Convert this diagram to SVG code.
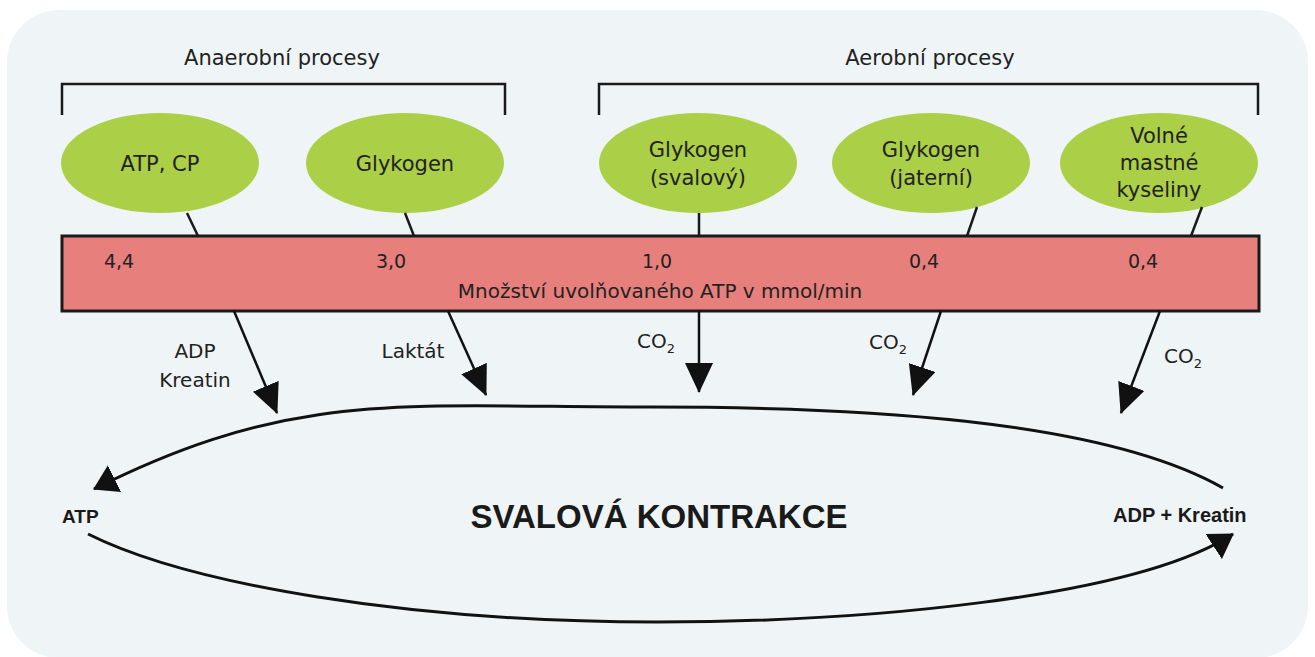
<svg xmlns="http://www.w3.org/2000/svg" width="1315" height="657" viewBox="0 0 1315 657">
<style>
.t{font-family:"DejaVu Sans","Liberation Sans",sans-serif;fill:#222;}
.b{font-family:"Liberation Sans","DejaVu Sans",sans-serif;font-weight:bold;fill:#1a1a1a;}
.el{fill:#abcf46;}
.ln{stroke:#1a1a1a;stroke-width:2.5;fill:none;}
.ar{stroke:#111;stroke-width:2.5;fill:none;marker-end:url(#big);}
.lp{stroke:#111;stroke-width:3;fill:none;}
</style>
<defs>
<marker id="big" markerUnits="userSpaceOnUse" viewBox="0 0 30 28" markerWidth="30" markerHeight="28" refX="29" refY="14" orient="auto">
<path d="M0,0 L30,14 L0,28 z" fill="#111"/>
</marker>
<marker id="sm" markerUnits="userSpaceOnUse" viewBox="0 0 24 30" markerWidth="24" markerHeight="30" refX="23" refY="15" orient="auto">
<path d="M0,0 L24,15 L0,30 z" fill="#111"/>
</marker>
</defs>
<rect x="0" y="0" width="1315" height="657" fill="#ffffff"/>
<rect x="7" y="10" width="1301" height="648" rx="52" ry="52" fill="#eff5f6"/>

<g id="headers">
<text class="t" x="282" y="65" font-size="21" text-anchor="middle">Anaerobní procesy</text>
<text class="t" x="930" y="65" font-size="21" text-anchor="middle">Aerobní procesy</text>
<path class="ln" d="M62,115 V84 H505 V115"/>
<path class="ln" d="M599,115 V84 H1258 V115"/>
</g>

<g id="bar">
<rect x="62" y="236" width="1197" height="75" fill="#e77f7c" stroke="#1a1a1a" stroke-width="3"/>
<g class="t" font-size="19" text-anchor="middle">
<text x="119" y="268">4,4</text>
<text x="391" y="268">3,0</text>
<text x="657" y="268">1,0</text>
<text x="924" y="268">0,4</text>
<text x="1143" y="268">0,4</text>
</g>
<text class="t" x="660" y="298" font-size="20" text-anchor="middle">Množství uvolňovaného ATP v mmol/min</text>
</g>

<g id="n-atpcp">
<ellipse class="el" cx="160" cy="163" rx="99" ry="50"/>
<text class="t" x="160" y="171" font-size="21" text-anchor="middle">ATP, CP</text>
</g>
<g id="n-glykogen">
<ellipse class="el" cx="405" cy="163" rx="99" ry="50"/>
<text class="t" x="405" y="171" font-size="21" text-anchor="middle">Glykogen</text>
</g>
<g id="n-svalovy">
<ellipse class="el" cx="698" cy="163" rx="99" ry="50"/>
<text class="t" x="698" y="157" font-size="21" text-anchor="middle">Glykogen</text>
<text class="t" x="698" y="185" font-size="21" text-anchor="middle">(svalový)</text>
</g>
<g id="n-jaterni">
<ellipse class="el" cx="931" cy="163" rx="99" ry="50"/>
<text class="t" x="931" y="157" font-size="21" text-anchor="middle">Glykogen</text>
<text class="t" x="931" y="185" font-size="21" text-anchor="middle">(jaterní)</text>
</g>
<g id="n-volne">
<ellipse class="el" cx="1159" cy="163" rx="99" ry="50"/>
<text class="t" x="1159" y="143" font-size="21" text-anchor="middle">Volné</text>
<text class="t" x="1159" y="170" font-size="21" text-anchor="middle">mastné</text>
<text class="t" x="1159" y="197" font-size="21" text-anchor="middle">kyseliny</text>
</g>

<g id="connectors">
<line class="ln" x1="187" y1="213" x2="198" y2="236"/>
<line class="ln" x1="405" y1="213" x2="414" y2="236"/>
<line class="ln" x1="699" y1="213" x2="699" y2="236"/>
<line class="ln" x1="977" y1="207" x2="967" y2="236"/>
<line class="ln" x1="1202" y1="207" x2="1191" y2="236"/>

<line class="ar" x1="234" y1="311" x2="277" y2="413"/>
<line class="ar" x1="448" y1="311" x2="486" y2="395"/>
<line class="ar" x1="699" y1="311" x2="699" y2="392"/>
<line class="ar" x1="941" y1="311" x2="913" y2="395"/>
<line class="ar" x1="1160" y1="311" x2="1121" y2="413"/>

<path class="lp" marker-end="url(#sm)" d="M1223,488 C1100,418 850,407 650,407 C400,407 294,389 94,489"/>
<path class="lp" marker-end="url(#sm)" d="M88,534 C188,584 407,622 657,622 C857,622 1133,599 1233,534"/>
</g>

<g id="labels">
<text class="t" x="195" y="358" font-size="20" text-anchor="middle">ADP</text>
<text class="t" x="195" y="387" font-size="20" text-anchor="middle">Kreatin</text>
<text class="t" x="413" y="358" font-size="20" text-anchor="middle">Laktát</text>
<text class="t" x="637" y="348" font-size="20">CO<tspan font-size="13" dy="5">2</tspan></text>
<text class="t" x="869" y="349" font-size="20">CO<tspan font-size="13" dy="5">2</tspan></text>
<text class="t" x="1164" y="363" font-size="20">CO<tspan font-size="13" dy="5">2</tspan></text>
<text class="b" x="62" y="523" font-size="19">ATP</text>
<text class="b" x="1113" y="522" font-size="20">ADP + Kreatin</text>
<text class="b" x="659" y="528" font-size="33" text-anchor="middle">SVALOVÁ KONTRAKCE</text>
</g>
</svg>
